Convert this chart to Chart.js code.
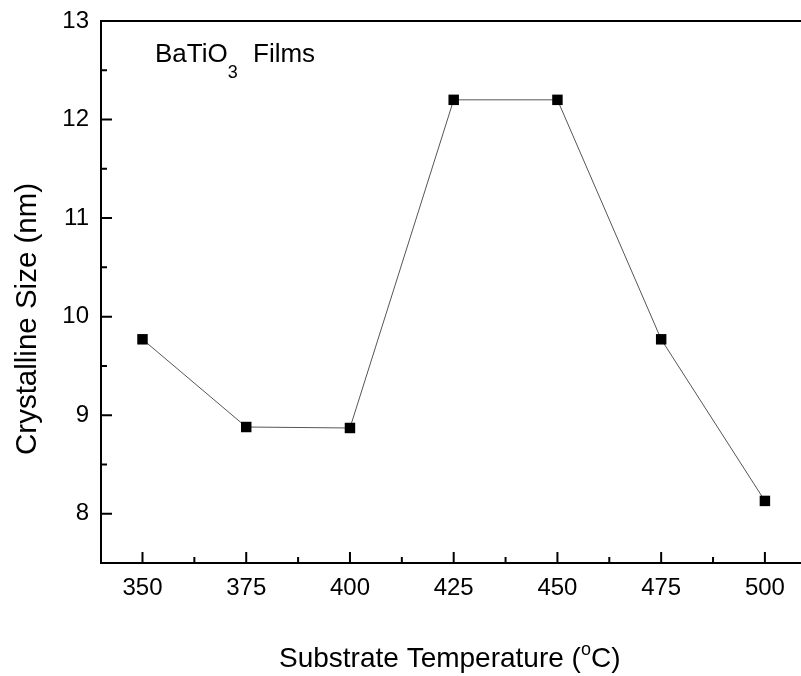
<!DOCTYPE html>
<html>
<head>
<meta charset="utf-8">
<script src="https://cdn.jsdelivr.net/npm/chart.js@4.4.0/dist/chart.umd.min.js"></script>
<style>
html,body{margin:0;padding:0;background:#fff;overflow:hidden;width:801px;height:676px;}
canvas{display:block;}
</style>
</head>
<body>
<canvas id="c" width="801" height="676" style="width:801px;height:676px"></canvas>
<script>
const temperatures = [350, 375, 400, 425, 450, 475, 500];
const crystallineSize = [9.77, 8.88, 8.87, 12.2, 12.2, 9.77, 8.13];
const xTickValues = [350, 375, 400, 425, 450, 475, 500];
const xMinorTicks = [362.5, 387.5, 412.5, 437.5, 462.5, 487.5];
const yTickValues = [8, 9, 10, 11, 12, 13];
const yMinorTicks = [8.5, 9.5, 10.5, 11.5, 12.5];
const xTitle = ['Substrate Temperature (', 'o', 'C)'];
const yTitle = 'Crystalline Size (nm)';
const annot = ['BaTiO', '3', 'Films'];

const FONT = '"Liberation Sans", Arial, sans-serif';
const target = { left: 101, right: 801, top: 21, bottom: 563 };

const axesPlugin = {
  id: 'axesPlugin',
  afterDraw(chart) {
    const ctx = chart.ctx;
    const a = chart.chartArea;
    const xs = chart.scales.x, ys = chart.scales.y;
    ctx.save();
    ctx.strokeStyle = '#000';
    ctx.lineWidth = 2;
    ctx.beginPath();
    ctx.moveTo(a.left, a.top); ctx.lineTo(a.right, a.top);
    ctx.moveTo(a.left, a.top - 1); ctx.lineTo(a.left, a.bottom + 1);
    ctx.moveTo(a.left, a.bottom); ctx.lineTo(a.right, a.bottom);
    ctx.stroke();
    ctx.beginPath();
    xTickValues.forEach(v => { const p = xs.getPixelForValue(v); ctx.moveTo(p, a.bottom); ctx.lineTo(p, a.bottom - 11); });
    xMinorTicks.forEach(v => { const p = xs.getPixelForValue(v); ctx.moveTo(p, a.bottom); ctx.lineTo(p, a.bottom - 6); });
    yTickValues.forEach(v => { const p = ys.getPixelForValue(v); ctx.moveTo(a.left, p); ctx.lineTo(a.left + 11, p); });
    yMinorTicks.forEach(v => { const p = ys.getPixelForValue(v); ctx.moveTo(a.left, p); ctx.lineTo(a.left + 6, p); });
    ctx.stroke();

    ctx.fillStyle = '#000';
    ctx.textBaseline = 'alphabetic';
    ctx.textAlign = 'left';
    let x = 279, y = 667;
    ctx.font = '28px ' + FONT;
    ctx.fillText(xTitle[0], x, y); x += ctx.measureText(xTitle[0]).width;
    ctx.font = '18px ' + FONT;
    ctx.fillText(xTitle[1], x, y - 12); x += ctx.measureText(xTitle[1]).width;
    ctx.font = '28px ' + FONT;
    ctx.fillText(xTitle[2], x, y);
    ctx.save();
    ctx.translate(36, 455);
    ctx.rotate(-Math.PI / 2);
    ctx.font = '29.5px ' + FONT;
    ctx.fillText(yTitle, 0, 0);
    ctx.restore();
    x = 155; y = 62;
    ctx.font = '26px ' + FONT;
    ctx.fillText(annot[0], x, y); x += ctx.measureText(annot[0]).width;
    ctx.font = '18px ' + FONT;
    ctx.fillText(annot[1], x, y + 16);
    ctx.font = '26px ' + FONT;
    ctx.fillText(annot[2], 253, y);
    ctx.restore();
  }
};

const chart = new Chart(document.getElementById('c'), {
  type: 'line',
  data: {
    datasets: [{
      data: temperatures.map((t, i) => ({ x: t, y: crystallineSize[i] })),
      borderColor: '#555',
      borderWidth: 1,
      pointStyle: 'rect',
      pointRadius: 7.4,
      pointBackgroundColor: '#000',
      pointBorderColor: '#000',
      pointBorderWidth: 0,
      tension: 0,
      fill: false
    }]
  },
  options: {
    responsive: false,
    animation: false,
    devicePixelRatio: 1,
    layout: { autoPadding: false, padding: { top: 21, right: 0, left: 0, bottom: 0 } },
    plugins: { legend: { display: false }, tooltip: { enabled: false }, title: { display: false } },
    scales: {
      x: {
        type: 'linear',
        min: 340, max: 508.7,
        grid: { display: false, drawTicks: false },
        border: { display: false },
        afterBuildTicks: s => { s.ticks = xTickValues.map(v => ({ value: v })); },
        afterFit: s => { s.height = 113; s.paddingLeft = 0; s.paddingRight = 0; s.paddingTop = 0; s.paddingBottom = 0; },
        ticks: { color: '#000', font: { family: FONT, size: 24 }, padding: 11, maxRotation: 0, autoSkip: false }
      },
      y: {
        type: 'linear',
        min: 7.5, max: 13,
        grid: { display: false, drawTicks: false },
        border: { display: false },
        afterBuildTicks: s => { s.ticks = yTickValues.map(v => ({ value: v })); },
        afterFit: s => { s.width = 101; s.paddingLeft = 0; s.paddingRight = 0; s.paddingTop = 0; s.paddingBottom = 0; },
        ticks: { color: '#000', font: { family: FONT, size: 24 }, padding: 12, autoSkip: false }
      }
    }
  },
  plugins: [axesPlugin]
});

for (let i = 0; i < 4; i++) {
  const a = chart.chartArea;
  const p = chart.config.options.layout.padding;
  const dt = a.top - target.top, db = a.bottom - target.bottom;
  const dr = a.right - target.right, dl = a.left - target.left;
  if (Math.abs(dt) < 0.2 && Math.abs(db) < 0.2 && Math.abs(dr) < 0.2 && Math.abs(dl) < 0.2) break;
  p.top -= dt; p.bottom += db; p.right += dr; p.left -= dl;
  chart.update('none');
}
</script>
</body>
</html>
